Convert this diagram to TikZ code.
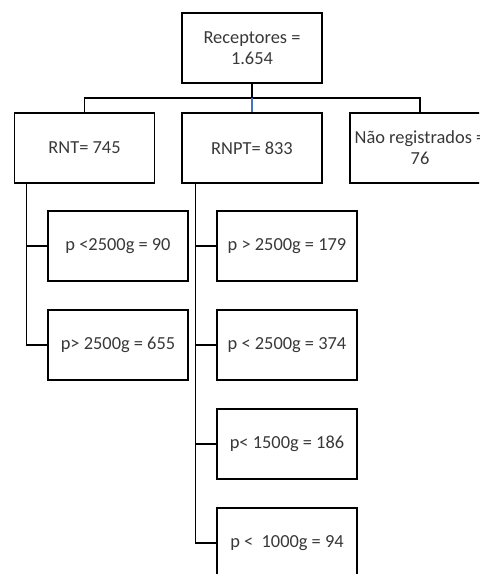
\documentclass[tikz,border=0pt]{standalone}
\usepackage{fontspec}
\setmainfont{Carlito}
\usetikzlibrary{positioning}
\definecolor{LinkBlue}{RGB}{68,114,196}
\tikzset{%Global config
	>=latex,
	color = black ,
	x=0.75pt, y=-0.75pt,
	%Styles
	Box/.style={
		draw,
		line width=1.1pt,
		minimum width=105pt,
		minimum height=52.5pt,
		inner sep=0pt,
		align=center,
		text=black!78,
		font=\fontsize{13.8}{15.75}\selectfont,
	},
	Link/.style={
		line width=1pt,
	},
}
\begin{document}
\begin{tikzpicture}
	\useasboundingbox (0,0) rectangle (479,574);
	\clip (0,0) rectangle (479,574);
	% Top level
	\node[Box] (rec) at (252,48) {Receptores =\\1.654};
	% Second level
	\node[Box] (rnt) at (84.5,148) {RNT= 745};
	\node[Box] (rnpt) at (252,148) {RNPT= 833};
	\node[Box] (nreg) at (420,148) {Não registrados =\\76};
	% Children of RNT
	\node[Box] (p1) at (118,246) {p <2500g = 90};
	\node[Box] (p2) at (118,345) {p> 2500g = 655};
	% Children of RNPT
	\node[Box] (q1) at (287,246) {p > 2500g = 179};
	\node[Box] (q2) at (287,345) {p < 2500g = 374};
	\node[Box] (q3) at (287,444) {p< 1500g = 186};
	\node[Box] (q4) at (287,543) {p <\ \ 1000g = 94};
	
	% Connectors
	\coordinate (bar) at (252,98);
	\draw[Link] (rec.south) -- (bar);
	\draw[Link] (rnt.north) |- (bar) -| (nreg.north);
	\draw[Link, LinkBlue] (bar) -- (rnpt.north);
	\foreach \c in {p1,p2}
		\draw[Link] ([xshift=9.75pt]rnt.south west) |- (\c.west);
	\foreach \c in {q1,q2,q3,q4}
		\draw[Link] ([xshift=10.5pt]rnpt.south west) |- (\c.west);
\end{tikzpicture}
\end{document}
